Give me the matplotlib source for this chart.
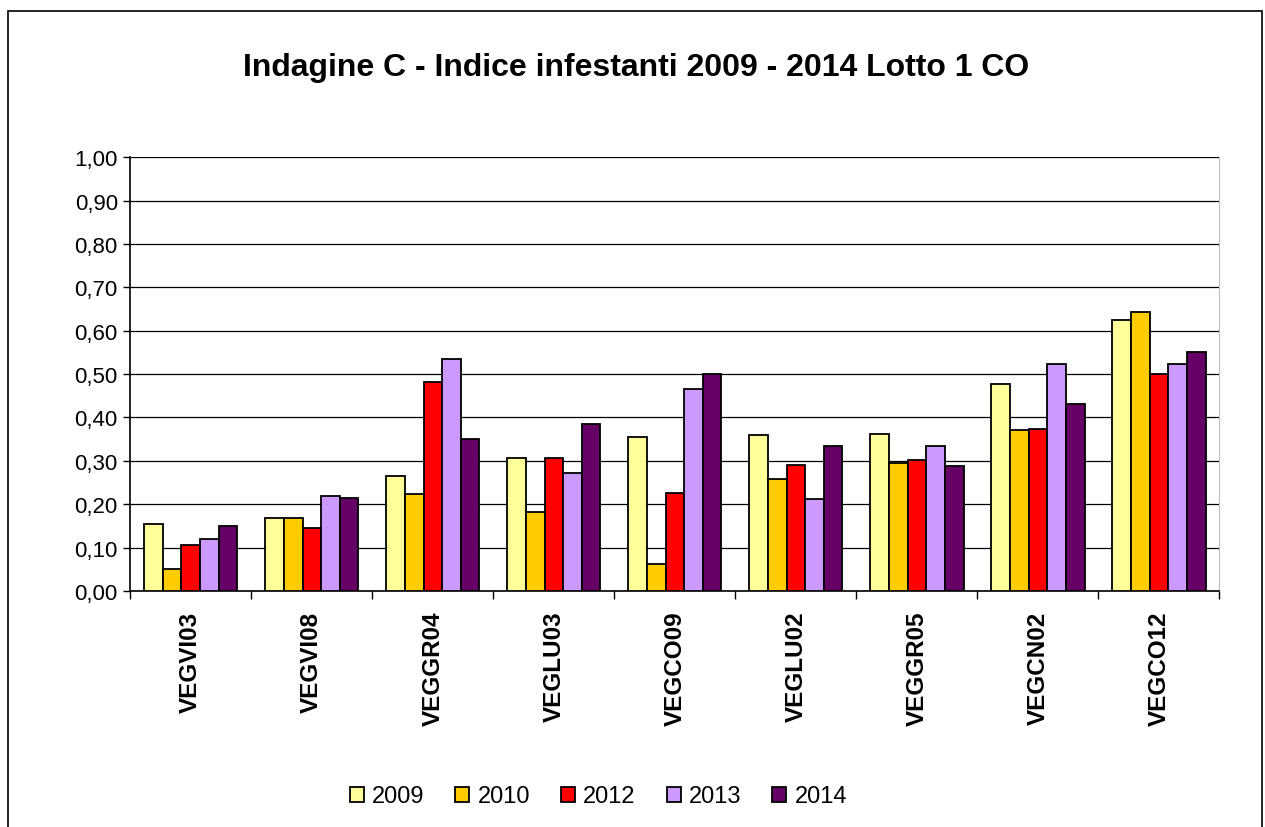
import matplotlib
matplotlib.use('Agg')
from matplotlib import pyplot as plt
from matplotlib.patches import Rectangle
import numpy as np

plt.rcParams['font.family'] = ['Liberation Sans', 'DejaVu Sans']

# data
sites = ['VEGVI03', 'VEGVI08', 'VEGGR04', 'VEGLU03', 'VEGCO09',
         'VEGLU02', 'VEGGR05', 'VEGCN02', 'VEGCO12']
years = ['2009', '2010', '2012', '2013', '2014']
v2009 = [0.155, 0.168, 0.265, 0.307, 0.355, 0.360, 0.363, 0.478, 0.625]
v2010 = [0.050, 0.168, 0.223, 0.182, 0.063, 0.258, 0.295, 0.370, 0.642]
v2012 = [0.105, 0.145, 0.482, 0.307, 0.227, 0.290, 0.303, 0.373, 0.500]
v2013 = [0.120, 0.218, 0.535, 0.273, 0.465, 0.213, 0.335, 0.523, 0.523]
v2014 = [0.150, 0.215, 0.350, 0.385, 0.500, 0.335, 0.287, 0.430, 0.552]
colors = ['#FFFF99', '#FFCC00', '#FF0000', '#CC99FF', '#660066']

series = [v2009, v2010, v2012, v2013, v2014]

fig = plt.figure(figsize=(12.65, 8.28), dpi=100)
ax = fig.add_axes([0.103, 0.285, 0.861, 0.524])

x = np.arange(len(sites))
w = 0.154
for i, (vals, yr, c) in enumerate(zip(series, years, colors)):
    ax.bar(x + (i - 2) * w, vals, w, color=c, edgecolor='black',
           linewidth=1.3, label=yr, zorder=3)

ax.set_xlim(-0.5, len(sites) - 0.5)
ax.set_ylim(0, 1.0)
yt = np.arange(0, 1.01, 0.1)
ax.set_yticks(yt)
ax.set_yticklabels([('%.2f' % v).replace('.', ',') for v in yt], fontsize=16)
ax.yaxis.grid(True, color='black', linewidth=0.9, zorder=0)
ax.tick_params(axis='y', direction='out', length=5, width=1, pad=4)

ax.set_xticks(x)
ax.set_xticklabels(sites, rotation=90, fontsize=17.5, fontweight='bold')
ax.tick_params(axis='x', length=0, pad=14)
ax.set_xticks(np.arange(-0.5, len(sites), 1), minor=True)
ax.tick_params(axis='x', which='minor', direction='out', length=6, width=1)

ax.spines['top'].set_visible(False)
ax.spines['right'].set_color('#bbbbbb')
ax.spines['left'].set_linewidth(1.2)
ax.spines['bottom'].set_linewidth(1.2)

fig.text(0.503, 0.918, 'Indagine C - Indice infestanti 2009 - 2014 Lotto 1 CO',
         ha='center', va='center', fontsize=23, fontweight='bold')

fig.legend(loc='center', bbox_to_anchor=(0.473, 0.037), ncol=5, frameon=False,
           fontsize=17, handlelength=0.6, handleheight=0.6, handletextpad=0.35,
           columnspacing=1.3)

fig.patches.append(Rectangle((8 / 1265, -0.01), 1254 / 1265, 1 - 12 / 828 + 0.01,
                             transform=fig.transFigure, fill=False,
                             edgecolor='black', linewidth=1.2))

fig.savefig('out.png', dpi=100)
